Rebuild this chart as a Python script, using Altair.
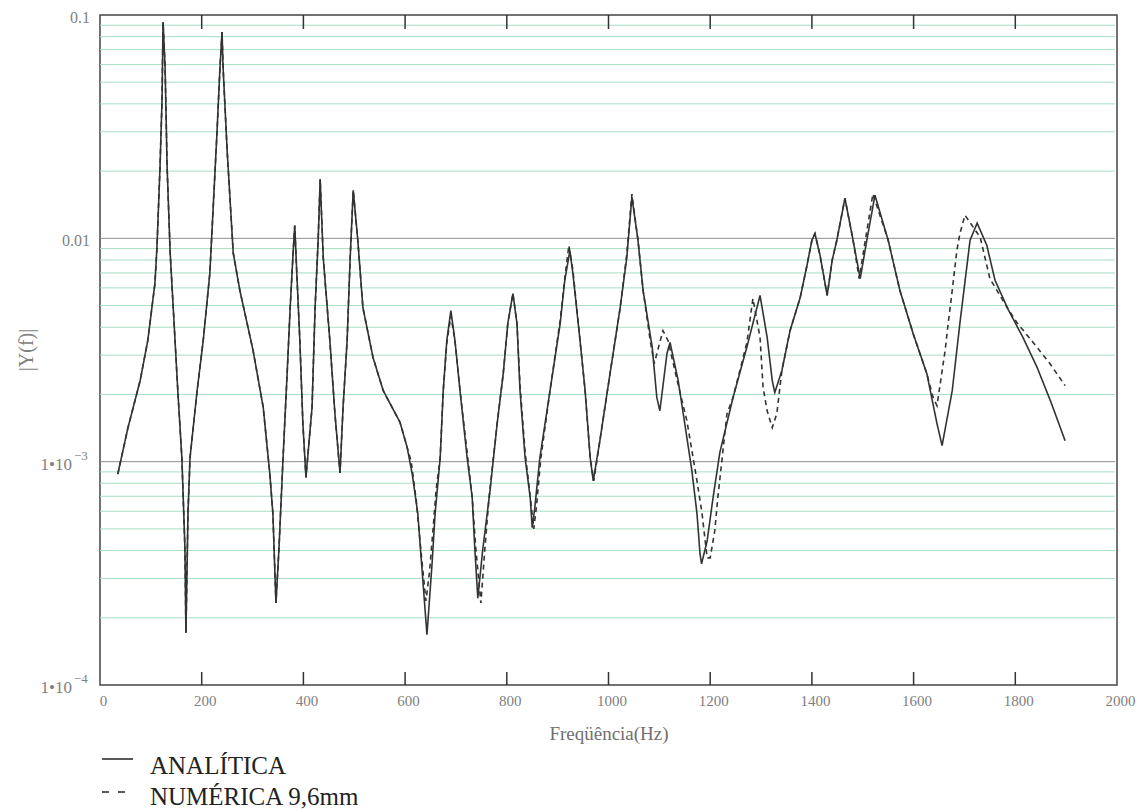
import altair as alt
import pandas as pd

# ---------------- data ----------------
freq_analitica = [35, 55, 79, 94, 108, 112, 118, 122, 124, 128, 132, 138, 144, 153, 161, 167, 169, 173, 177, 191,
                  203, 216, 220, 230, 236, 240, 242, 250, 262, 275, 301, 321, 334, 340, 346, 352, 360, 368, 374, 380,
                  383, 387, 393, 399, 405, 417, 423, 429, 433, 439, 452, 462, 472, 478, 486, 492, 498, 507, 517, 537,
                  557, 590, 604, 614, 625, 635, 643, 653, 659, 669, 675, 682, 690, 698, 708, 722, 732, 737, 743, 753,
                  767, 781, 793, 802, 812, 820, 826, 836, 846, 850, 855, 865, 885, 905, 914, 924, 930, 944, 954, 964,
                  970, 983, 1003, 1023, 1036, 1046, 1058, 1068, 1086, 1095, 1101, 1115, 1121, 1137, 1147, 1164, 1174,
                  1180, 1183, 1194, 1206, 1219, 1245, 1272, 1298, 1312, 1322, 1327, 1341, 1357, 1377, 1390, 1400, 1406,
                  1416, 1430, 1440, 1449, 1465, 1481, 1495, 1508, 1524, 1550, 1573, 1599, 1626, 1646, 1656, 1676, 1691,
                  1711, 1725, 1744, 1760, 1786, 1815, 1843, 1870, 1898]
y_analitica = [8.8e-4, 1.42e-3, 2.31e-3, 3.49e-3, 6.28e-3, 9.1e-3, 0.0208, 0.0416, 0.093, 0.0585, 0.0208, 8.6e-3,
               4.9e-3, 2.08e-3, 1.04e-3, 4.1e-4, 1.71e-4, 5.85e-4, 1.04e-3, 2.08e-3,
               3.49e-3, 6.97e-3, 0.0105, 0.0296, 0.0585, 0.0839, 0.0585, 0.0248, 8.6e-3, 5.85e-3, 3.15e-3, 1.75e-3,
               8.8e-4, 5.85e-4, 2.33e-4, 4.1e-4, 1.04e-3, 2.48e-3, 4.9e-3, 8.8e-3,
               0.0114, 6.97e-3, 3.49e-3, 1.48e-3, 8.5e-4, 1.75e-3, 4.9e-3, 9.8e-3, 0.0184, 8.2e-3, 3.49e-3, 1.64e-3,
               8.9e-4, 1.75e-3, 3.49e-3, 8.2e-3, 0.0164, 9.8e-3, 4.9e-3, 2.92e-3,
               2.08e-3, 1.5e-3, 1.16e-3, 8.8e-4, 5.85e-4, 2.92e-4, 1.68e-4, 3.49e-4, 5.85e-4, 1.04e-3, 2.08e-3,
               3.49e-3, 4.75e-3, 3.49e-3, 2.08e-3, 1.04e-3, 6.9e-4, 4.1e-4, 2.45e-4, 4.1e-4,
               7.4e-4, 1.48e-3, 2.48e-3, 4.16e-3, 5.66e-3, 4.16e-3, 2.08e-3, 1.04e-3, 6.9e-4, 5.06e-4, 6.2e-4,
               1.04e-3, 2.08e-3, 4.16e-3, 6.48e-3, 8.8e-3, 6.97e-3, 3.49e-3, 2.08e-3, 1.04e-3,
               8.2e-4, 1.24e-3, 2.48e-3, 4.9e-3, 8.2e-3, 0.0153, 9.8e-3, 5.85e-3, 3.25e-3, 1.94e-3, 1.69e-3, 3.05e-3,
               3.42e-3, 2.31e-3, 1.64e-3, 9.1e-4, 5.85e-4,
               3.86e-4, 3.49e-4, 4.42e-4, 7.0e-4, 1.1e-3, 1.94e-3, 3.25e-3, 5.55e-3, 3.6e-3, 2.31e-3, 2.04e-3,
               2.56e-3, 3.86e-3, 5.43e-3, 7.5e-3, 9.8e-3, 0.0105,
               8.4e-3, 5.55e-3, 8.0e-3, 9.8e-3, 0.0151, 9.8e-3, 6.6e-3, 9.8e-3, 0.0156, 9.8e-3, 5.85e-3, 3.75e-3,
               2.48e-3, 1.48e-3, 1.18e-3, 2.08e-3, 4.16e-3,
               9.8e-3, 0.0117, 9.3e-3, 6.5e-3, 4.8e-3, 3.6e-3, 2.64e-3, 1.85e-3, 1.24e-3]

freq_numerica = [35, 55, 79, 94, 108, 112, 118, 122, 124, 128, 132, 138, 144, 153, 161, 167, 169, 173, 177, 191,
                 203, 216, 220, 230, 236, 240, 242, 250, 262, 275, 301, 321, 334, 340, 346, 352, 360, 368, 374, 380,
                 383, 387, 393, 399, 405, 417, 423, 429, 433, 439, 452, 462, 472, 478, 486, 492, 498, 507, 517, 537,
                 557, 590, 604, 612, 622, 633, 641, 648, 655, 661, 669, 675, 682, 690, 698, 708, 722, 732, 739, 749,
                 757, 765, 781, 793, 802, 812, 820, 826, 836, 846, 853, 858, 867, 885, 905, 914, 922, 930, 944, 954,
                 964, 971, 983, 1003, 1023, 1036, 1046, 1058, 1068, 1082, 1090, 1107, 1117, 1135, 1154, 1174, 1184,
                 1194, 1200, 1209, 1215, 1233, 1245, 1272, 1284, 1298, 1304, 1312, 1322, 1331, 1341, 1357, 1377, 1390,
                 1400, 1406, 1416, 1430, 1440, 1449, 1465, 1481, 1493, 1505, 1520, 1550, 1573, 1599, 1626, 1638, 1646,
                 1662, 1668, 1676, 1685, 1691, 1701, 1731, 1750, 1784, 1803, 1835, 1868, 1898]
y_numerica = [8.8e-4, 1.42e-3, 2.31e-3, 3.49e-3, 6.28e-3, 9.1e-3, 0.0208, 0.0416, 0.093, 0.0585, 0.0208, 8.6e-3,
              4.9e-3, 2.08e-3, 1.04e-3, 4.1e-4, 1.71e-4, 5.85e-4, 1.04e-3, 2.08e-3,
              3.49e-3, 6.97e-3, 0.0105, 0.0296, 0.0585, 0.0839, 0.0585, 0.0248, 8.6e-3, 5.85e-3, 3.15e-3, 1.75e-3,
              8.8e-4, 5.85e-4, 2.33e-4, 4.1e-4, 1.04e-3, 2.48e-3, 4.9e-3, 8.8e-3,
              0.0114, 6.97e-3, 3.49e-3, 1.48e-3, 8.5e-4, 1.75e-3, 4.9e-3, 9.8e-3, 0.0184, 8.2e-3, 3.49e-3, 1.64e-3,
              8.9e-4, 1.75e-3, 3.49e-3, 8.2e-3, 0.0164, 9.8e-3, 4.9e-3, 2.92e-3,
              2.08e-3, 1.5e-3, 1.16e-3, 1.0e-3, 6.7e-4, 3.6e-4, 2.38e-4, 3.2e-4, 5.0e-4, 7.5e-4, 1.04e-3, 2.08e-3,
              3.4e-3, 4.5e-3, 3.49e-3, 2.08e-3, 1.1e-3, 6.9e-4, 4.1e-4, 2.33e-4,
              4.1e-4, 6.9e-4, 1.48e-3, 2.48e-3, 4.16e-3, 5.66e-3, 4.16e-3, 2.2e-3, 1.1e-3, 7.0e-4, 5.0e-4, 6.2e-4,
              1.04e-3, 2.08e-3, 4.3e-3, 6.6e-3, 9.3e-3, 7.2e-3, 3.49e-3, 2.08e-3,
              1.04e-3, 8.2e-4, 1.24e-3, 2.48e-3, 4.9e-3, 8.5e-3, 0.0158, 9.8e-3, 5.85e-3, 3.49e-3, 2.75e-3, 3.86e-3,
              3.49e-3, 2.31e-3, 1.53e-3, 8.2e-4, 5.85e-4,
              3.71e-4, 3.71e-4, 4.91e-4, 6.9e-4, 1.64e-3, 1.94e-3, 3.4e-3, 5.38e-3, 3.6e-3, 2.15e-3, 1.69e-3,
              1.42e-3, 1.64e-3, 2.56e-3, 3.86e-3, 5.43e-3, 7.5e-3,
              9.8e-3, 0.0105, 8.4e-3, 5.55e-3, 8.0e-3, 9.8e-3, 0.0151, 9.8e-3, 6.6e-3, 9.8e-3, 0.0158, 9.8e-3,
              5.85e-3, 3.75e-3, 2.48e-3, 1.95e-3, 1.78e-3,
              3.15e-3, 4.16e-3, 5.85e-3, 8.8e-3, 0.0105, 0.0127, 0.0101, 6.6e-3, 4.9e-3, 4.2e-3, 3.42e-3, 2.75e-3,
              2.19e-3]

series_names = ["ANALÍTICA", "NUMÉRICA 9,6mm"]
x_tick_values = [0, 200, 400, 600, 800, 1000, 1200, 1400, 1600, 1800, 2000]
inner_ticks = [200, 400, 600, 800, 1000, 1200, 1400, 1600, 1800]
y_dec_values = [0.1, 0.01]
y_dec_text = ["0.1", "0.01"]
y_pow_values = [0.001, 0.0001]
y_pow_base = ["1•10", "1•10"]
y_pow_exp = ["−3", "−4"]
minor_grid = [2e-4, 3e-4, 4e-4, 5e-4, 6e-4, 7e-4, 8e-4, 9e-4,
              2e-3, 3e-3, 4e-3, 5e-3, 6e-3, 7e-3, 8e-3, 9e-3,
              2e-2, 3e-2, 4e-2, 5e-2, 6e-2, 7e-2, 8e-2, 9e-2]
major_grid = [1e-3, 1e-2]
x_title = "Freqüência(Hz)"
y_title = "|Y(f)|"

# ---------------- chart ----------------
W, H = 1017, 670
FONT = "Liberation Serif"
xs = alt.Scale(domain=[0, 2000], nice=False, zero=False)
ys = alt.Scale(type="log", domain=[1e-4, 0.1], nice=False)
x_axis = alt.Axis(values=x_tick_values, format="d", labelFont=FONT, labelFontSize=15,
                  labelColor="#808080", ticks=False, domain=False, grid=False,
                  labelPadding=8, labelFlush=False, labelOffset=3, title=x_title, titleFont=FONT,
                  titleFontSize=19, titleColor="#707070", titleFontWeight="normal",
                  titlePadding=16)

df = pd.concat([
    pd.DataFrame({"f": freq_analitica, "y": y_analitica, "serie": series_names[0]}),
    pd.DataFrame({"f": freq_numerica, "y": y_numerica, "serie": series_names[1]}),
])

minor = alt.Chart(pd.DataFrame({"v": minor_grid})).mark_rule(color="#a6dfc2", strokeWidth=1).encode(
    y=alt.Y("v:Q", scale=ys, axis=None), x=alt.value(0), x2=alt.value(W - 2))
major = alt.Chart(pd.DataFrame({"v": major_grid})).mark_rule(color="#8c8c8c", strokeWidth=1).encode(
    y=alt.Y("v:Q", scale=ys, axis=None), x=alt.value(0), x2=alt.value(W - 2))

lines = alt.Chart(df).mark_line(strokeWidth=1.6, color="#333333").encode(
    x=alt.X("f:Q", scale=xs, axis=x_axis),
    y=alt.Y("y:Q", scale=ys, axis=None),
    strokeDash=alt.StrokeDash("serie:N", scale=alt.Scale(domain=series_names, range=[[1, 0], [5, 4]]),
                              legend=None),
    detail="serie:N",
)

tick_df = pd.DataFrame({"t": inner_ticks})
top_ticks = alt.Chart(tick_df).mark_rule(color="#333333", strokeWidth=1.5).encode(
    x=alt.X("t:Q", scale=xs, axis=x_axis), y=alt.value(0), y2=alt.value(14))
bot_ticks = alt.Chart(tick_df).mark_rule(color="#333333", strokeWidth=1.5).encode(
    x=alt.X("t:Q", scale=xs, axis=x_axis), y=alt.value(H - 13), y2=alt.value(H))

dec_labels = alt.Chart(pd.DataFrame({"v": y_dec_values, "t": y_dec_text})).mark_text(
    align="right", baseline="middle", font=FONT, fontSize=16, color="#808080", dy=3).encode(
    y=alt.Y("v:Q", scale=ys, axis=None), x=alt.value(-10), text="t:N")
pow_base = alt.Chart(pd.DataFrame({"v": y_pow_values, "t": y_pow_base})).mark_text(
    align="right", baseline="middle", font=FONT, fontSize=17, color="#808080", dy=3).encode(
    y=alt.Y("v:Q", scale=ys, axis=None), x=alt.value(-28), text="t:N")
pow_exp = alt.Chart(pd.DataFrame({"v": y_pow_values, "t": y_pow_exp})).mark_text(
    align="left", baseline="middle", font=FONT, fontSize=13, color="#808080", dy=-6).encode(
    y=alt.Y("v:Q", scale=ys, axis=None), x=alt.value(-26), text="t:N")

ytitle = alt.Chart(pd.DataFrame({"t": [y_title]})).mark_text(
    angle=270, align="center", baseline="middle", font=FONT, fontSize=20, color="#808080").encode(
    x=alt.value(-73), y=alt.value(H / 2), text="t:N")

leg_solid = alt.Chart(pd.DataFrame({"s": [series_names[0]]})).mark_rule(
    color="#222222", strokeWidth=1.5).encode(x=alt.value(2), x2=alt.value(33), y=alt.value(744))
leg_dash = alt.Chart(pd.DataFrame({"s": [series_names[1]]})).mark_rule(
    color="#222222", strokeWidth=1.5, strokeDash=[7, 9]).encode(x=alt.value(2), x2=alt.value(27), y=alt.value(777))
leg_text1 = alt.Chart(pd.DataFrame({"s": [series_names[0]]})).mark_text(
    align="left", baseline="middle", font=FONT, fontSize=25, color="#222222").encode(
    x=alt.value(50), y=alt.value(751), text="s:N")
leg_text2 = alt.Chart(pd.DataFrame({"s": [series_names[1]]})).mark_text(
    align="left", baseline="middle", font=FONT, fontSize=25, color="#222222").encode(
    x=alt.value(50), y=alt.value(782), text="s:N")

chart = alt.layer(
    minor, major, lines, top_ticks, bot_ticks, dec_labels, pow_base, pow_exp, ytitle,
    leg_solid, leg_dash, leg_text1, leg_text2,
).properties(
    width=W, height=H,
    padding={"left": 100, "top": 15, "right": 22, "bottom": 124},
    autosize=alt.AutoSizeParams(type="none"),
    background="white",
).configure_view(stroke="#444444", strokeWidth=1.5)

chart.save("out.html", embed_options={"renderer": "svg", "actions": False})
